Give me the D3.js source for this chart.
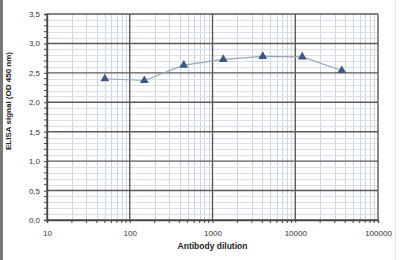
<!DOCTYPE html>
<head>
  <meta charset="utf-8" />
  <script src="https://d3js.org/d3.v7.min.js"></script>
  <style>
    body {
      margin: 0;
      background: #fff;
    }
    text {
      font-family: "Liberation Sans", Arial, sans-serif;
    }
  </style>
</head>

<body>
  <script>
    // data
    var dilutions = [50, 150, 450, 1350, 4050, 12150, 36450];
    var signal = [2.4, 2.37, 2.63, 2.73, 2.78, 2.77, 2.54];
    var xTicks = [10, 100, 1000, 10000, 100000];
    var yTicks = [0, 0.5, 1, 1.5, 2, 2.5, 3, 3.5];

    var width = 400,
      height = 260;
    var pLeft = 47,
      pRight = 378,
      pTop = 14,
      pBottom = 220;

    var svg = d3
      .select("body")
      .append("svg")
      .attr("width", width)
      .attr("height", height);

    var x = d3.scaleLog().domain([10, 100000]).range([pLeft, pRight]);
    var y = d3.scaleLinear().domain([0, 3.5]).range([pBottom, pTop]);

    // frame lines of the image
    svg.append("line").attr("x1", 1.5).attr("x2", 1.5).attr("y1", 0).attr("y2", height)
      .attr("stroke", "#777").attr("stroke-width", 3);
    svg.append("line").attr("x1", 395.5).attr("x2", 395.5).attr("y1", 0).attr("y2", height)
      .attr("stroke", "#e4e4e4").attr("stroke-width", 1);

    var g = svg.append("g");

    // minor grid
    var minorX = x.ticks().filter((d) => xTicks.indexOf(d) == -1);
    g.selectAll(".mx")
      .data(minorX)
      .enter()
      .append("line")
      .attr("x1", (d) => Math.round(x(d)) + 0.5)
      .attr("x2", (d) => Math.round(x(d)) + 0.5)
      .attr("y1", pTop)
      .attr("y2", pBottom)
      .attr("stroke", "#cdd4e2")
      .attr("stroke-width", 1);

    var minorY = d3.range(1, 35).map((d) => d / 10).filter((d) => Math.round(d * 10) % 5 != 0);
    g.selectAll(".my")
      .data(minorY)
      .enter()
      .append("line")
      .attr("x1", pLeft)
      .attr("x2", pRight)
      .attr("y1", (d) => Math.round(y(d)) + 0.5)
      .attr("y2", (d) => Math.round(y(d)) + 0.5)
      .attr("stroke", "#d9dfea")
      .attr("stroke-width", 1);

    // major grid
    g.selectAll(".gx")
      .data(xTicks)
      .enter()
      .append("line")
      .attr("x1", (d) => x(d))
      .attr("x2", (d) => x(d))
      .attr("y1", pTop)
      .attr("y2", pBottom)
      .attr("stroke", "#5a5a5a")
      .attr("stroke-width", 1.4);

    g.selectAll(".gy")
      .data(yTicks)
      .enter()
      .append("line")
      .attr("x1", pLeft)
      .attr("x2", pRight)
      .attr("y1", (d) => y(d))
      .attr("y2", (d) => y(d))
      .attr("stroke", "#5a5a5a")
      .attr("stroke-width", 1.4);

    // axes
    var yAxis = d3
      .axisLeft(y)
      .tickValues(yTicks)
      .tickSize(3)
      .tickPadding(4)
      .tickFormat((d) => d3.format(".1f")(d).replace(".", ","));
    var ya = svg.append("g").attr("transform", "translate(" + pLeft + ",0)").call(yAxis);
    ya.select(".domain").attr("stroke", "#444").attr("stroke-width", 1.4);

    // minor y ticks
    svg.append("g")
      .selectAll("line")
      .data(minorY)
      .enter()
      .append("line")
      .attr("x1", pLeft - 3)
      .attr("x2", pLeft)
      .attr("y1", (d) => y(d))
      .attr("y2", (d) => y(d))
      .attr("stroke", "#444");

    var xAxis = d3
      .axisBottom(x)
      .tickValues(xTicks)
      .tickSize(3)
      .tickPadding(7)
      .tickFormat(d3.format("d"));
    var xa = svg.append("g").attr("transform", "translate(0," + pBottom + ")").call(xAxis);
    xa.select(".domain").attr("stroke", "#444").attr("stroke-width", 1.4);

    svg.append("g")
      .selectAll("line")
      .data(minorX)
      .enter()
      .append("line")
      .attr("x1", (d) => x(d))
      .attr("x2", (d) => x(d))
      .attr("y1", pBottom)
      .attr("y2", pBottom + 3)
      .attr("stroke", "#444");

    [ya, xa].forEach(function (a) {
      a.selectAll(".tick line").attr("stroke", "#444");
      a.selectAll(".tick text")
        .attr("fill", "#333")
        .style("font-size", "8px")
        .style("font-family", "Liberation Sans, Arial, sans-serif");
    });

    // labels
    svg.append("text")
      .attr("x", (pLeft + pRight) / 2)
      .attr("y", 249)
      .attr("text-anchor", "middle")
      .attr("font-size", "8.5px")
      .attr("font-weight", "bold")
      .attr("fill", "#222")
      .text("Antibody dilution");

    svg.append("text")
      .attr("transform", "translate(11,101) rotate(-90)")
      .attr("text-anchor", "middle")
      .attr("font-size", "8px")
      .attr("font-weight", "bold")
      .attr("fill", "#222")
      .text("ELISA signal (OD 450 nm)");

    // series
    var pts = dilutions.map((d, i) => [d, signal[i]]);
    var line = d3
      .line()
      .x((d) => x(d[0]))
      .y((d) => y(d[1]));

    svg.append("path")
      .datum(pts)
      .attr("d", line)
      .attr("fill", "none")
      .attr("stroke", "#98a6ba")
      .attr("stroke-width", 1.2);

    var tri = d3.symbol().type(d3.symbolTriangle).size(34);
    svg.selectAll(".pt")
      .data(pts)
      .enter()
      .append("path")
      .attr("d", tri)
      .attr("transform", (d) => "translate(" + x(d[0]) + "," + y(d[1]) + ")")
      .attr("fill", "#3e5787");
  </script>
</body>
